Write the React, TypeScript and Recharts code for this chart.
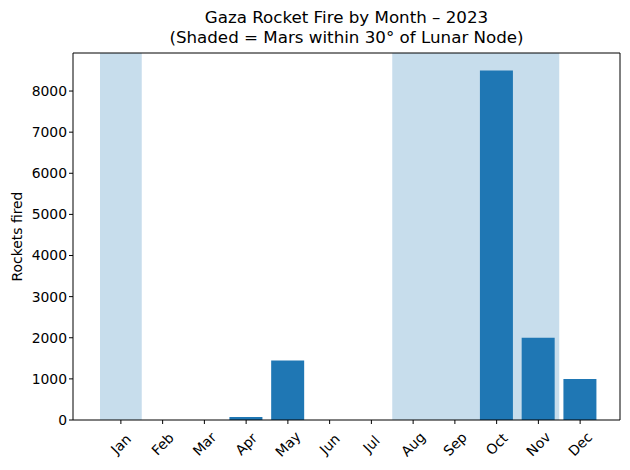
import React from 'react';
import { BarChart, Bar, XAxis, YAxis, ReferenceArea } from 'recharts';

const months = ['Jan', 'Feb', 'Mar', 'Apr', 'May', 'Jun', 'Jul', 'Aug', 'Sep', 'Oct', 'Nov', 'Dec'];
const rockets = [0, 0, 0, 70, 1450, 0, 0, 0, 0, 8500, 2000, 1000];
const yTicks = [0, 1000, 2000, 3000, 4000, 5000, 6000, 7000, 8000];
const yMax = 8925;
// month spans where Mars was within 30° of the lunar node
const shadedSpans = [
  ['Jan', 'Jan'],
  ['Aug', 'Nov'],
];

const FONT = '"DejaVu Sans", sans-serif';

const data = months.map((m, i) => ({ month: m, rockets: rockets[i] }));

const MonthTick = (props: any) => {
  const { x, y, payload } = props;
  return (
    <text
      x={x}
      y={y + 18}
      transform={`rotate(-45 ${x} ${y + 18})`}
      textAnchor="middle"
      dominantBaseline="central"
      fontSize={13.9}
      fontFamily={FONT}
      fill="#000"
    >
      {payload.value}
    </text>
  );
};

const App: React.FC = () => {
  return (
    <div style={{ position: 'absolute', left: 0, top: 0, width: 630, height: 470, background: '#fff' }}>
      <div
        style={{
          position: 'absolute',
          left: 0,
          top: 8,
          width: 693,
          textAlign: 'center',
          fontFamily: FONT,
          fontSize: 16.7,
          lineHeight: '19.5px',
          color: '#000',
        }}
      >
        Gaza Rocket Fire by Month – 2023
        <br />
        (Shaded = Mars within 30° of Lunar Node)
      </div>
      <BarChart
        width={630}
        height={470}
        data={data}
        margin={{ top: 52, right: 9, left: 23, bottom: 0 }}
        barCategoryGap="10%"
      >
        {shadedSpans.map(([a, b]) => (
          <ReferenceArea key={a} x1={a} x2={b} fill="#c7ddec" fillOpacity={1} stroke="none" />
        ))}
        <XAxis
          dataKey="month"
          padding={{ left: 27, right: 19 }}
          height={50}
          tick={<MonthTick />}
          tickSize={4}
          tickLine={{ stroke: '#000' }}
          axisLine={{ stroke: '#000' }}
          interval={0}
        />
        <XAxis
          xAxisId="top"
          orientation="top"
          dataKey="month"
          height={1}
          tick={false}
          tickLine={false}
          axisLine={{ stroke: '#000' }}
        />
        <YAxis
          domain={[0, yMax]}
          ticks={yTicks}
          width={50}
          tickSize={4}
          tickLine={{ stroke: '#000' }}
          axisLine={{ stroke: '#000' }}
          tick={{ fill: '#000', fontSize: 13.9, fontFamily: FONT }}
          label={{
            value: 'Rockets fired',
            angle: -90,
            position: 'insideLeft',
            offset: -6,
            style: { textAnchor: 'middle', fill: '#000', fontSize: 13.9, fontFamily: FONT },
          }}
        />
        <YAxis
          yAxisId="right"
          orientation="right"
          domain={[0, yMax]}
          width={1}
          tick={false}
          tickLine={false}
          axisLine={{ stroke: '#000' }}
        />
        <Bar dataKey="rockets" fill="#1f77b4" isAnimationActive={false} />
      </BarChart>
    </div>
  );
};

export default App;
